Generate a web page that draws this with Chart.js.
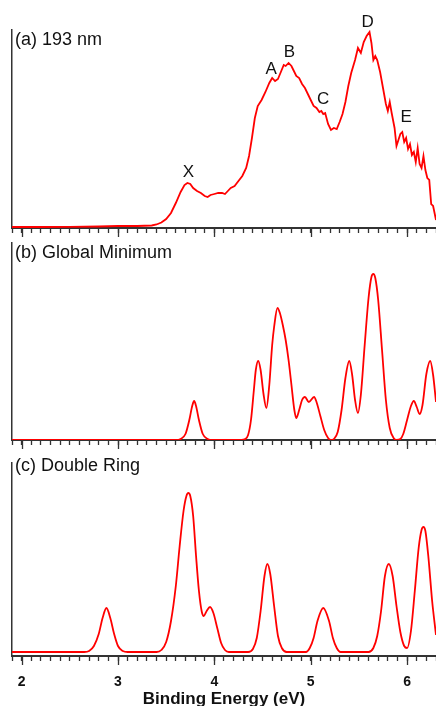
<!DOCTYPE html>
<html>
<head>
<meta charset="utf-8">
<script src="https://cdn.jsdelivr.net/npm/chart.js@4.4.0/dist/chart.umd.min.js"></script>
<style>
  html, body { margin: 0; padding: 0; background: #fff; overflow: hidden; }
  canvas { position: absolute; left: 0; }
</style>
</head>
<body>
<canvas id="panelA" width="436" height="240" style="top:0px"></canvas>
<canvas id="panelB" width="436" height="212" style="top:240px"></canvas>
<canvas id="panelC" width="436" height="258" style="top:452px"></canvas>
<script>
// (a) measured spectrum, 193 nm
var energyA = [1.9, 2.2, 2.5, 2.8, 3.0, 3.2, 3.35, 3.40, 3.45, 3.50, 3.55, 3.60, 3.65, 3.69, 3.72, 3.75, 3.78,
  3.82, 3.86, 3.90, 3.93, 3.96, 4.00, 4.04, 4.08, 4.11, 4.14, 4.17, 4.21, 4.25, 4.29, 4.33, 4.36, 4.39, 4.42,
  4.45, 4.49, 4.53, 4.57, 4.60, 4.63, 4.66, 4.69, 4.72, 4.74, 4.77, 4.80, 4.82, 4.85, 4.88, 4.91, 4.94, 4.97,
  5.00, 5.03, 5.06, 5.09, 5.11, 5.13, 5.15, 5.18, 5.21, 5.24, 5.27, 5.30, 5.33, 5.36, 5.39, 5.42, 5.46, 5.49,
  5.52, 5.55, 5.58, 5.61, 5.63, 5.65, 5.67, 5.69, 5.72, 5.75, 5.78, 5.80, 5.82, 5.84, 5.87, 5.89, 5.91, 5.93,
  5.95, 5.97, 5.99, 6.01, 6.03, 6.05, 6.07, 6.09, 6.11, 6.13, 6.15, 6.17, 6.19, 6.21, 6.23, 6.25, 6.27, 6.30];
var signalA = [1, 1, 1.2, 1.5, 2, 2, 2.5, 3.5, 5.5, 9, 15, 25, 36, 43, 45, 44, 40,
  37, 35, 32, 31, 33, 34, 35, 35, 34, 37, 40, 42, 47, 52, 60, 72, 90, 110,
  122, 128, 136, 145, 150, 147, 149, 156, 163, 162, 165, 162, 158, 152, 150, 144, 140, 134,
  128, 122, 120, 116, 117, 114, 115, 104, 98, 100, 99, 106, 114, 126, 142, 155, 168, 180,
  175, 186, 192, 196, 185, 168, 172, 168, 156, 140, 124, 117, 126, 115, 100, 82, 88, 94,
  96, 86, 90, 79, 84, 73, 76, 66, 80, 64, 60, 72, 58, 50, 48, 24, 22, 8];

// (b) simulated, global minimum
var energyB = [1.9, 3.60, 3.65, 3.70, 3.74, 3.77, 3.79, 3.81, 3.84, 3.88, 3.93, 3.98,
  4.28, 4.32, 4.35, 4.38, 4.41, 4.43, 4.455, 4.48, 4.51, 4.54, 4.57, 4.60, 4.62, 4.655, 4.68, 4.71, 4.74,
  4.77, 4.80, 4.83, 4.85, 4.88, 4.91, 4.94, 4.98, 5.035, 5.06, 5.10, 5.14, 5.18, 5.21, 5.24, 5.28, 5.32,
  5.36, 5.40, 5.43, 5.46, 5.49, 5.52, 5.56, 5.60, 5.63, 5.65, 5.67, 5.70, 5.74, 5.78, 5.82, 5.86, 5.89,
  5.93, 5.96, 6.00, 6.04, 6.07, 6.10, 6.13, 6.16, 6.20, 6.24, 6.27, 6.30];
var signalB = [0, 0, 1, 6, 20, 34, 39, 34, 20, 6, 1, 0,
  0, 1, 5, 20, 50, 70, 79, 70, 46, 32, 55, 95, 113, 132, 127, 115, 100,
  80, 55, 30, 22, 30, 40, 43, 38, 43, 38, 24, 10, 2, 0, 1, 8, 30,
  62, 79, 65, 40, 27, 45, 95, 142, 163, 166, 162, 140, 90, 40, 12, 2, 0,
  1, 6, 20, 34, 39, 33, 26, 35, 66, 79, 65, 38];

// (c) simulated, double ring
var energyC = [1.9, 2.65, 2.70, 2.75, 2.80, 2.84, 2.88, 2.92, 2.96, 3.00, 3.05, 3.10,
  3.40, 3.45, 3.50, 3.55, 3.60, 3.64, 3.68, 3.71, 3.73, 3.75, 3.78, 3.81, 3.84, 3.87, 3.89, 3.92, 3.955,
  3.99, 4.03, 4.07, 4.11, 4.15, 4.35, 4.40, 4.44, 4.48, 4.52, 4.55, 4.58, 4.62, 4.66, 4.70, 4.75,
  4.95, 4.99, 5.03, 5.07, 5.13, 5.19, 5.23, 5.27, 5.31, 5.60, 5.65, 5.69, 5.73, 5.77, 5.81, 5.85, 5.89,
  5.93, 5.97, 6.00, 6.04, 6.08, 6.12, 6.15, 6.17, 6.19, 6.22, 6.26, 6.30];
var signalC = [4, 4, 5, 10, 22, 38, 48, 38, 22, 10, 5, 4,
  4, 6, 14, 35, 70, 110, 145, 160, 163, 160, 140, 100, 65, 44, 40, 45, 49,
  43, 28, 13, 6, 4, 4, 7, 18, 45, 80, 92, 82, 50, 20, 8, 4,
  4, 8, 18, 35, 48, 35, 18, 8, 4, 4, 8, 20, 45, 80, 92, 80, 50,
  24, 10, 8, 25, 65, 108, 126, 129, 125, 100, 55, 21];

var majorTicks = [2, 3, 4, 5, 6];
var peakNames = ['X', 'A', 'B', 'C', 'D', 'E'];
var peakEnergy = [3.73, 4.59, 4.78, 5.13, 5.59, 5.99];
var peakHeight = [56, 159, 176, 129, 206, 111];

var AXIS_COLOR = '#333';
var LINE_COLOR = '#ff0000';
var FONT = '"Liberation Sans", Arial, Helvetica, sans-serif';

function toPoints(xs, ys) {
  return xs.map(function(x, i) { return {x: x, y: ys[i]}; });
}

// panel label, peak letters and the long ticks at whole eV
var panelDecor = {
  id: 'panelDecor',
  afterDraw: function(chart, args, opts) {
    var ctx = chart.ctx;
    var area = chart.chartArea;
    var xs = chart.scales.x, ys = chart.scales.y;
    ctx.save();
    ctx.strokeStyle = AXIS_COLOR;
    ctx.lineWidth = 1.3;
    majorTicks.forEach(function(v) {
      var px = Math.round(xs.getPixelForValue(v)) + 0.5;
      ctx.beginPath();
      ctx.moveTo(px, area.bottom);
      ctx.lineTo(px, area.bottom + 9);
      ctx.stroke();
    });
    ctx.fillStyle = '#111';
    ctx.textBaseline = 'middle';
    ctx.textAlign = 'left';
    ctx.font = '18px ' + FONT;
    ctx.fillText(opts.label, area.left + 3, area.top + opts.labelDy);
    if (opts.peaks) {
      ctx.textAlign = 'center';
      ctx.font = '17px ' + FONT;
      peakNames.forEach(function(name, i) {
        ctx.fillText(name, xs.getPixelForValue(peakEnergy[i]), ys.getPixelForValue(peakHeight[i]));
      });
    }
    ctx.restore();
  }
};

function makePanel(id, points, cfg) {
  return new Chart(document.getElementById(id), {
    type: 'line',
    data: {
      datasets: [{
        data: points,
        borderColor: LINE_COLOR,
        borderWidth: 1.8,
        pointRadius: 0,
        cubicInterpolationMode: cfg.smooth ? 'monotone' : 'default',
        tension: cfg.smooth ? 0.4 : 0,
        fill: false
      }]
    },
    options: {
      responsive: false,
      animation: false,
      events: [],
      layout: { padding: { left: 12, right: 0, top: cfg.padTop, bottom: 0 } },
      plugins: {
        legend: { display: false },
        tooltip: { enabled: false },
        panelDecor: { label: cfg.label, labelDy: cfg.labelDy, peaks: cfg.peaks }
      },
      scales: {
        x: {
          type: 'linear',
          min: 1.9,
          max: 6.3,
          afterFit: function(scale) {
            scale.height = cfg.axisHeight;
            scale.paddingLeft = 0;
            scale.paddingRight = 0;
          },
          border: { color: AXIS_COLOR, width: 2 },
          grid: { drawOnChartArea: false, drawTicks: true, tickLength: 5, tickWidth: 1.3, tickColor: AXIS_COLOR },
          ticks: {
            display: cfg.showLabels,
            stepSize: 0.1,
            autoSkip: false,
            maxRotation: 0,
            padding: 13,
            color: '#111',
            font: { family: FONT, size: 14, weight: 'bold' },
            callback: function(v) {
              var r = Math.round(v);
              return (Math.abs(v - r) < 1e-6 && majorTicks.indexOf(r) >= 0) ? String(r) : '';
            }
          },
          title: {
            display: cfg.showLabels,
            text: 'Binding Energy (eV)',
            color: '#111',
            padding: 0,
            font: { family: FONT, size: 17, weight: 'bold' }
          }
        },
        y: {
          min: 0,
          max: cfg.yMax,
          afterFit: function(scale) { scale.width = 0; },
          border: { color: AXIS_COLOR, width: 1.5 },
          grid: { drawOnChartArea: false, drawTicks: false },
          ticks: { display: false }
        }
      }
    },
    plugins: [panelDecor]
  });
}

makePanel('panelA', toPoints(energyA, signalA), {
  smooth: false, padTop: 30, axisHeight: 12, yMax: 198,
  label: '(a) 193 nm', labelDy: 10, peaks: true, showLabels: false
});
makePanel('panelB', toPoints(energyB, signalB), {
  smooth: true, padTop: 3, axisHeight: 12, yMax: 197,
  label: '(b) Global Minimum', labelDy: 10, peaks: false, showLabels: false
});
makePanel('panelC', toPoints(energyC, signalC), {
  smooth: true, padTop: 11, axisHeight: 54, yMax: 193,
  label: '(c) Double Ring', labelDy: 3, peaks: false, showLabels: true
});
</script>
</body>
</html>
